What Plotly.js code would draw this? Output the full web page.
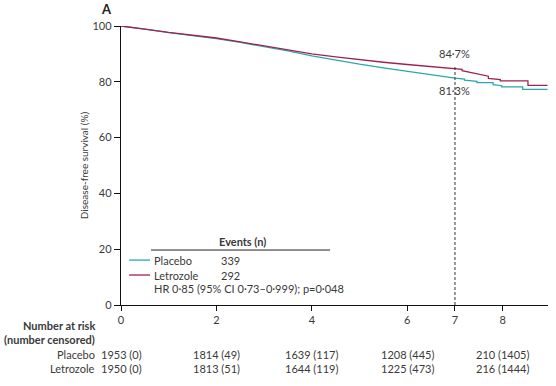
<!DOCTYPE html>
<html>
<head>
<meta charset="utf-8">
<script src="https://cdn.plot.ly/plotly-3.0.1.min.js"></script>
<style>html,body{margin:0;padding:0;background:#fff;}#chart{width:556px;height:386px;}</style>
</head>
<body>
<div id="chart"></div>
<script>
// Kaplan-Meier curves (years, disease-free survival %)
const placeboYears    = [0, 0.25, 0.5, 1, 1.5, 2, 2.5, 3, 3.5, 4, 4.5, 5, 5.5, 6, 6.5, 7, 7.2, 7.2, 7.46, 7.46, 7.8, 7.8, 7.98, 7.98, 8.42, 8.42, 8.94];
const placeboDFS      = [100, 99.5, 98.9, 97.6, 96.6, 95.5, 94.1, 92.7, 91.1, 89.3, 87.7, 86.3, 85.0, 83.7, 82.5, 81.3, 81.0, 80.6, 80.2, 79.7, 79.7, 79.0, 78.6, 78.2, 78.2, 77.3, 77.3];
const letrozoleYears  = [0, 0.25, 0.5, 1, 1.5, 2, 2.5, 3, 3.5, 4, 4.5, 5, 5.5, 6, 6.5, 7, 7.15, 7.15, 7.35, 7.55, 7.7, 7.7, 7.95, 7.95, 8.53, 8.53, 8.94];
const letrozoleDFS    = [100, 99.5, 98.9, 97.7, 96.8, 95.7, 94.3, 92.8, 91.3, 90.0, 88.9, 87.9, 87.0, 86.2, 85.5, 84.7, 84.5, 84.0, 83.3, 82.4, 82.0, 81.2, 80.8, 80.3, 80.3, 78.7, 78.7];

// Landmark
const landmarkYear = 7;
const landmarkPlacebo = "81·3%";
const landmarkLetrozole = "84·7%";

// Legend / events
const groups = ["Placebo", "Letrozole"];
const groupColors = ["#2aa6b2", "#9e2350"];
const events = [339, 292];
const hrText = "HR 0·85 (95% CI 0·73–0·999); p=0·048";

// Number at risk (number censored)
const riskYears = [0, 2, 4, 6, 8];
const placeboAtRisk = [1953, 1814, 1639, 1208, 210];
const placeboCensored = [0, 49, 117, 445, 1405];
const letrozoleAtRisk = [1950, 1813, 1644, 1225, 216];
const letrozoleCensored = [0, 51, 119, 473, 1444];

// Axis ticks
const xTicks = [0, 2, 4, 6, 7, 8];
const yTicks = [0, 20, 40, 60, 80, 100];

const FONT = "Lato, 'Open Sans', sans-serif";
const TXT = "#3a3a3a";

const traces = [
  {x: placeboYears, y: placeboDFS, name: groups[0], mode: "lines",
   line: {color: groupColors[0], width: 1.3}, showlegend: false, hoverinfo: "skip"},
  {x: letrozoleYears, y: letrozoleDFS, name: groups[1], mode: "lines",
   line: {color: groupColors[1], width: 1.3}, showlegend: false, hoverinfo: "skip"}
];

const annotations = [];
const shapes = [];

// Panel letter
annotations.push({text: "<b>A</b>", xref: "paper", yref: "paper", x: -0.033, y: 1.06,
  xanchor: "center", yanchor: "middle", showarrow: false, font: {family: FONT, size: 13, color: "#222"}});

// Landmark labels & dashed line
annotations.push({text: landmarkLetrozole, xref: "x", yref: "y", x: landmarkYear, y: 90.3,
  showarrow: false, xanchor: "center", yanchor: "middle", font: {family: FONT, size: 11, color: TXT}});
annotations.push({text: landmarkPlacebo, xref: "x", yref: "y", x: landmarkYear, y: 76.8,
  showarrow: false, xanchor: "center", yanchor: "middle", font: {family: FONT, size: 11, color: TXT}});
shapes.push({type: "line", xref: "x", yref: "y", x0: landmarkYear, x1: landmarkYear, y0: 0, y1: 86,
  line: {color: "#333", width: 1, dash: "3px,2px"}});

// Legend block
annotations.push({text: "<b>Events (n)</b>", xref: "x", yref: "y", x: 2.55, y: 22.9,
  showarrow: false, xanchor: "center", yanchor: "middle", font: {family: FONT, size: 11, color: TXT}});
shapes.push({type: "line", xref: "x", yref: "y", x0: 0.63, x1: 4.38, y0: 19.7, y1: 19.7,
  line: {color: "#222", width: 1}});
const legendY = [16.1, 10.75];
groups.forEach((g, i) => {
  shapes.push({type: "line", xref: "x", yref: "y", x0: 0.17, x1: 0.61, y0: legendY[i], y1: legendY[i],
    line: {color: groupColors[i], width: 1.3}});
  annotations.push({text: g, xref: "x", yref: "y", x: 0.65, y: legendY[i], showarrow: false,
    xanchor: "left", yanchor: "middle", font: {family: FONT, size: 11, color: TXT}});
  annotations.push({text: String(events[i]), xref: "x", yref: "y", x: 2.05, y: legendY[i], showarrow: false,
    xanchor: "left", yanchor: "middle", font: {family: FONT, size: 11, color: TXT}});
});
annotations.push({text: hrText, xref: "x", yref: "y", x: 0.65, y: 6.0, showarrow: false,
  xanchor: "left", yanchor: "middle", font: {family: FONT, size: 11, color: TXT}});

// Number at risk table
const rowY = [-0.075, -0.125, -0.176, -0.229];
annotations.push({text: "<b>Number at risk</b>", xref: "paper", yref: "paper", x: -0.057, y: rowY[0],
  showarrow: false, xanchor: "right", yanchor: "middle", font: {family: FONT, size: 11, color: TXT}});
annotations.push({text: "<b>(number censored)</b>", xref: "paper", yref: "paper", x: -0.057, y: rowY[1],
  showarrow: false, xanchor: "right", yanchor: "middle", font: {family: FONT, size: 11, color: TXT}});
const riskRows = [[placeboAtRisk, placeboCensored], [letrozoleAtRisk, letrozoleCensored]];
riskRows.forEach((row, i) => {
  annotations.push({text: groups[i], xref: "paper", yref: "paper", x: -0.057, y: rowY[2 + i],
    showarrow: false, xanchor: "right", yanchor: "middle", font: {family: FONT, size: 11, color: TXT}});
  riskYears.forEach((t, j) => {
    annotations.push({text: row[0][j] + " (" + row[1][j] + ")", xref: "x", yref: "paper", x: t, y: rowY[2 + i],
      showarrow: false, xanchor: "center", yanchor: "middle", font: {family: FONT, size: 11, color: TXT}});
  });
});

const layout = {
  width: 556, height: 386,
  margin: {l: 121, r: 8, t: 26, b: 81, pad: 0},
  paper_bgcolor: "#fff", plot_bgcolor: "#fff",
  font: {family: FONT, size: 11, color: TXT},
  xaxis: {range: [0, 8.95], tickvals: xTicks, ticktext: xTicks.map(String), showgrid: false, zeroline: false,
    showline: true, linecolor: "#111", linewidth: 1.2, ticks: "outside", ticklen: 5, tickcolor: "#111",
    tickfont: {family: FONT, size: 11, color: TXT}, fixedrange: true},
  yaxis: {range: [0, 100], tickvals: yTicks, ticktext: yTicks.map(String), showgrid: false, zeroline: false,
    showline: true, linecolor: "#111", linewidth: 1.2, ticks: "outside", ticklen: 6, tickcolor: "#111",
    tickfont: {family: FONT, size: 11, color: TXT}, fixedrange: true,
    title: {text: "Disease-free survival (%)", font: {family: FONT, size: 10, color: TXT}, standoff: 2}},
  annotations: annotations,
  shapes: shapes,
  showlegend: false
};

Plotly.newPlot("chart", traces, layout, {displayModeBar: false, staticPlot: true});
</script>
</body>
</html>
